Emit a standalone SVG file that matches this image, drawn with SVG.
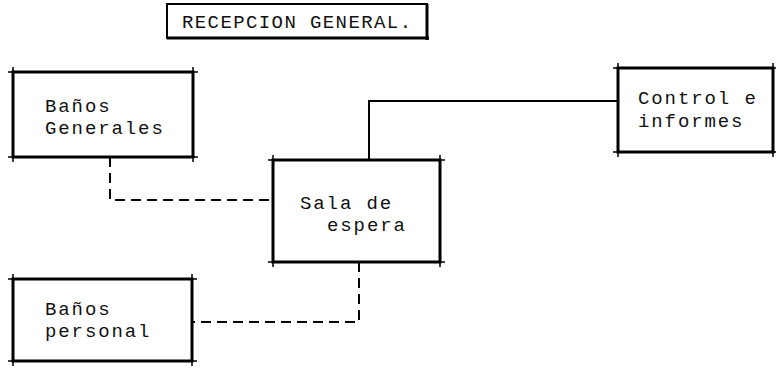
<svg xmlns="http://www.w3.org/2000/svg" width="776" height="371" viewBox="0 0 776 371">
<style>
.box{fill:#fff;stroke:#000;stroke-width:3}
.tick{stroke:#000;stroke-width:1.5;fill:none}
.t{font-family:"Liberation Mono","Courier New",monospace;font-size:19px;letter-spacing:1.9px;fill:#111}
.solid{stroke:#000;stroke-width:2;fill:none}
.dash{stroke:#000;stroke-width:2;fill:none;stroke-dasharray:10,6}
</style>
<rect width="776" height="371" fill="#fff"/>
<g id="connectors">
<polyline class="solid" points="369,160 369,101 618,101"/>
<polyline class="dash" points="110,157 110,200 273,200"/>
<polyline class="dash" points="359,262 359,322 192,322"/>
</g>
<g id="title">
<rect x="167" y="4" width="260" height="34" fill="#fff" stroke="#000" stroke-width="2"/>
<path d="M427,4V40M167,38H429" stroke="#000" stroke-width="3" fill="none"/>
<text class="t" x="182" y="28" style="letter-spacing:1.4px">RECEPCION GENERAL.</text>
</g>
<g id="banos-generales">
<rect class="box" x="13" y="72" width="180" height="85"/>
<path class="tick" d="M8,72H198M8,157H198M13,67V162M193,67V162"/>
<text class="t" x="45" y="112">Baños</text>
<text class="t" x="45" y="134">Generales</text>
</g>
<g id="control">
<rect class="box" x="618" y="68" width="155" height="84"/>
<path class="tick" d="M613,68H776M613,152H776M618,63V157M773,63V157"/>
<text class="t" x="638" y="104">Control e</text>
<text class="t" x="638" y="127">informes</text>
</g>
<g id="sala">
<rect class="box" x="273" y="160" width="167" height="102"/>
<path class="tick" d="M268,160H445M268,262H445M273,155V267M440,155V267"/>
<text class="t" x="300" y="209">Sala de</text>
<text class="t" x="327" y="231">espera</text>
</g>
<g id="banos-personal">
<rect class="box" x="13" y="279" width="179" height="82"/>
<path class="tick" d="M8,279H197M8,361H197M13,274V366M192,274V366"/>
<text class="t" x="45" y="315">Baños</text>
<text class="t" x="45" y="337">personal</text>
</g>
</svg>
